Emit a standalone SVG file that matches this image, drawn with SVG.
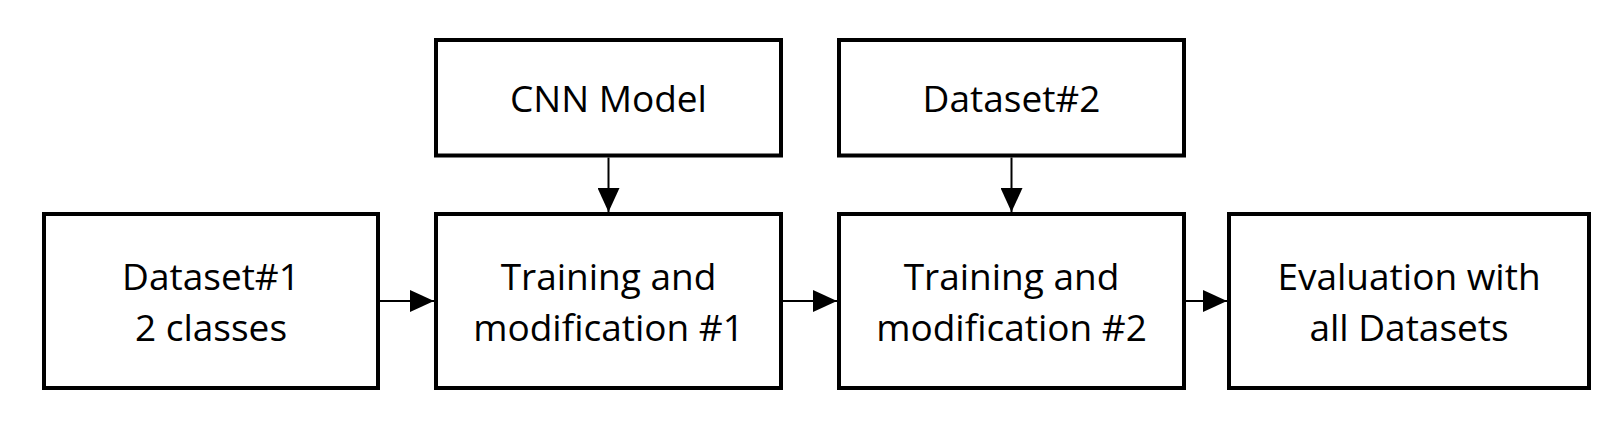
<svg xmlns="http://www.w3.org/2000/svg" width="1620" height="430" viewBox="0 0 1620 430">
<style>
.box{fill:#fff;stroke:#000;stroke-width:4}
.lbl{font-family:"Open Sans","Liberation Sans",sans-serif;font-size:37px;fill:#000;text-anchor:middle}
.conn{stroke:#000;stroke-width:2;fill:none}
</style>
<defs>
<marker id="ah" markerUnits="userSpaceOnUse" markerWidth="24" markerHeight="22" refX="24" refY="11" orient="auto">
<path d="M0,0 L24,11 L0,22 Z" fill="#000"/>
</marker>
</defs>
<rect width="1620" height="430" fill="#fff"/>
<g id="dataset1">
<rect class="box" x="44" y="214" width="334" height="174"/>
<text class="lbl" x="211" y="290">Dataset#1</text>
<text class="lbl" x="211" y="341">2 classes</text>
</g>
<g id="cnn">
<rect class="box" x="436" y="40" width="345" height="115.5"/>
<text class="lbl" x="608.5" y="111.5">CNN Model</text>
</g>
<g id="train1">
<rect class="box" x="436" y="214" width="345" height="174"/>
<text class="lbl" x="608.5" y="290">Training and</text>
<text class="lbl" x="608.5" y="341">modification #1</text>
</g>
<g id="dataset2">
<rect class="box" x="839" y="40" width="345" height="115.5"/>
<text class="lbl" x="1011.5" y="111.5">Dataset#2</text>
</g>
<g id="train2">
<rect class="box" x="839" y="214" width="345" height="174"/>
<text class="lbl" x="1011.5" y="290">Training and</text>
<text class="lbl" x="1011.5" y="341">modification #2</text>
</g>
<g id="eval">
<rect class="box" x="1229" y="214" width="360" height="174"/>
<text class="lbl" x="1409" y="290">Evaluation with</text>
<text class="lbl" x="1409" y="341">all Datasets</text>
</g>
<g id="connectors">
<line class="conn" x1="380" y1="301" x2="434" y2="301" marker-end="url(#ah)"/>
<line class="conn" x1="783" y1="301" x2="837" y2="301" marker-end="url(#ah)"/>
<line class="conn" x1="1186" y1="301" x2="1227" y2="301" marker-end="url(#ah)"/>
<line class="conn" x1="608.5" y1="157.5" x2="608.5" y2="212" marker-end="url(#ah)"/>
<line class="conn" x1="1011.5" y1="157.5" x2="1011.5" y2="212" marker-end="url(#ah)"/>
</g>
</svg>
